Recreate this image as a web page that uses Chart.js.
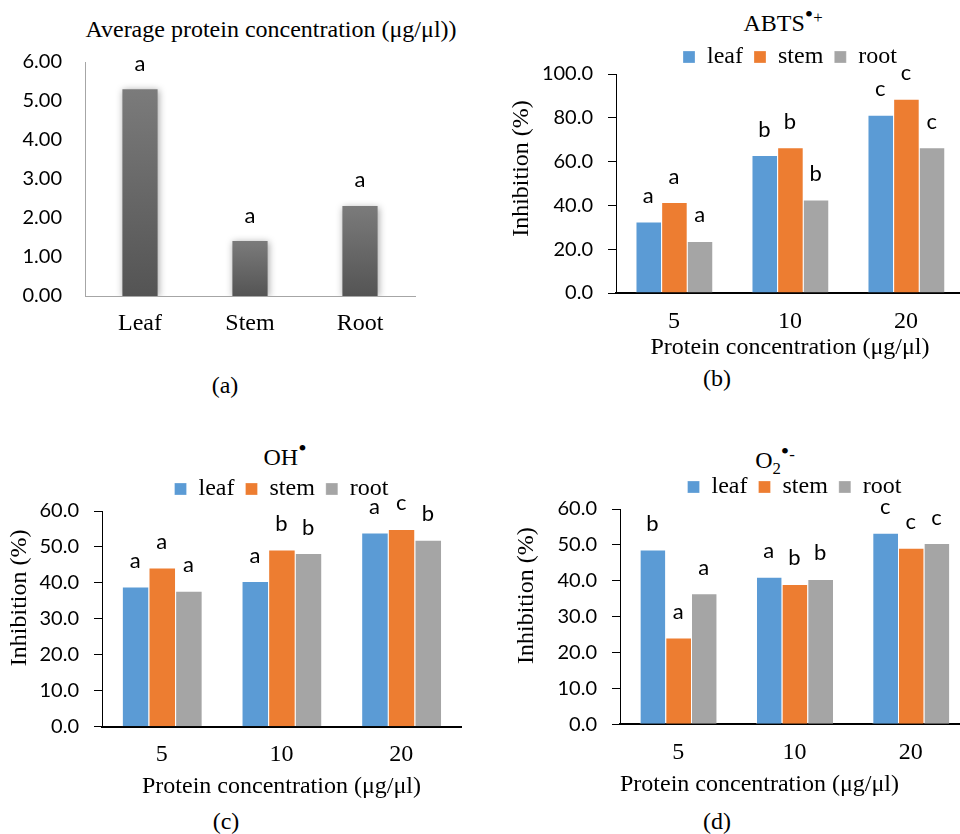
<!DOCTYPE html>
<html>
<head>
<meta charset="utf-8">
<script src="https://cdn.jsdelivr.net/npm/chart.js@4.4.1/dist/chart.umd.min.js"></script>
<style>
  html, body { margin: 0; padding: 0; background: #fff; overflow: hidden; }
  body { width: 960px; height: 834px; position: relative; }
  canvas { position: absolute; }
  .lbl { position: absolute; width: 400px; text-align: center; font: 24px 'Liberation Serif', serif; line-height: 28px; color: #000; white-space: nowrap; }
  .lbl sub { line-height: 0; font-size: 70%; }
  .dot { position: relative; top: -0.36em; }
  .sgn { position: relative; top: -0.45em; font-size: 70%; }
</style>
</head>
<body>
<div class="lbl" style="left:71px; top:15px;">Average protein concentration (μg/μl))</div>
<div class="lbl" style="left:583px; top:9px;">ABTS<span class="dot">•</span><span class="sgn">+</span></div>
<div class="lbl" style="left:85px; top:443px;">OH<span class="dot">•</span></div>
<div class="lbl" style="left:575px; top:446px;">O<sub>2</sub><span class="dot">•</span><span class="sgn">-</span></div>
<div class="lbl" style="left:25px; top:371px;">(a)</div>
<div class="lbl" style="left:517px; top:364px;">(b)</div>
<div class="lbl" style="left:26px; top:807px;">(c)</div>
<div class="lbl" style="left:517px; top:807px;">(d)</div>

<canvas id="chart-a" width="480" height="400" style="left:0; top:0;"></canvas>
<canvas id="chart-b" width="484" height="400" style="left:480px; top:0;"></canvas>
<canvas id="chart-c" width="480" height="404" style="left:0; top:430px;"></canvas>
<canvas id="chart-d" width="489" height="404" style="left:480px; top:430px;"></canvas>

<script>
'use strict'

// (a) average protein concentration
let organLabels = ['Leaf', 'Stem', 'Root'];
let proteinConc = [5.30, 1.41, 2.31];
let proteinLetters = ['a', 'a', 'a'];

// (b)-(d) inhibition by protein concentration
let doseLabels = ['5', '10', '20'];
let seriesNames = ['leaf', 'stem', 'root'];
let seriesColors = ['#5B9BD5', '#ED7D31', '#A5A5A5'];

let abtsLeaf = [32.6, 63.0, 81.4];
let abtsStem = [41.5, 66.6, 88.7];
let abtsRoot = [23.8, 42.7, 66.6];
let abtsLetters = [['a', 'b', 'c'], ['a', 'b', 'c'], ['a', 'b', 'c']];

let ohLeaf = [39.0, 40.5, 54.0];
let ohStem = [44.3, 49.3, 55.0];
let ohRoot = [37.8, 48.3, 52.0];
let ohLetters = [['a', 'a', 'a'], ['a', 'b', 'c'], ['a', 'b', 'b']];

let o2Leaf = [48.7, 41.1, 53.4];
let o2Stem = [24.2, 39.1, 49.2];
let o2Root = [36.5, 40.5, 50.5];
let o2Letters = [['b', 'a', 'c'], ['a', 'b', 'c'], ['a', 'b', 'c']];

const serif = "'Liberation Serif', 'Times New Roman', serif";
const sans = "Lato, 'Open Sans', sans-serif";

Chart.defaults.font.family = serif;
Chart.defaults.color = '#000';

// letters over each bar (significance groups)
const sigLetters = {
  id: 'sigLetters',
  afterDatasetsDraw(chart) {
    let ctx = chart.ctx;
    ctx.save();
    ctx.font = '22px ' + sans;
    ctx.fillStyle = '#000';
    ctx.textAlign = 'center';
    ctx.textBaseline = 'alphabetic';
    chart.data.datasets.forEach((ds, i) => {
      chart.getDatasetMeta(i).data.forEach((bar, j) => {
        ctx.fillText(ds.letters[j], bar.x, bar.y - 18.5);
      });
    });
    ctx.restore();
  }
};

// soft shadow for the grey bars in (a)
const barShadow = {
  id: 'barShadow',
  beforeDatasetsDraw(chart) {
    let ctx = chart.ctx;
    ctx.save();
    ctx.shadowColor = 'rgba(0,0,0,0.35)';
    ctx.shadowBlur = 7;
    ctx.shadowOffsetX = 1;
    ctx.shadowOffsetY = 1;
  },
  afterDatasetsDraw(chart) {
    chart.ctx.restore();
  }
};

function greyGradient(c) {
  let chart = c.chart;
  if (!chart.chartArea || c.type !== 'data') return '#666';
  let y = chart.scales.y;
  let top = y.getPixelForValue(c.raw);
  let bottom = y.getPixelForValue(0);
  let g = chart.ctx.createLinearGradient(0, top, 0, bottom);
  g.addColorStop(0, '#7b7b7b');
  g.addColorStop(1, '#545454');
  return g;
}

new Chart(document.getElementById('chart-a'), {
  type: 'bar',
  data: {
    labels: organLabels,
    datasets: [{
      data: proteinConc,
      letters: proteinLetters,
      backgroundColor: greyGradient,
      borderWidth: 0,
      barPercentage: 0.32,
      categoryPercentage: 1
    }]
  },
  options: {
    responsive: false,
    animation: false,
    layout: { padding: { top: 62, left: 0, right: 65, bottom: 0 } },
    plugins: { legend: { display: false }, title: { display: false }, tooltip: { enabled: false } },
    scales: {
      x: {
        grid: { display: false },
        border: { display: true, color: '#a6a6a6', width: 1 },
        ticks: { color: '#000', padding: 5.6, font: { family: serif, size: 24 } },
        afterFit(s) { s.height = 104; }
      },
      y: {
        min: 0, max: 6,
        ticks: { stepSize: 1, color: '#000', padding: 15, font: { family: sans, size: 20 },
          callback: (v) => v.toFixed(2) },
        grid: { display: false },
        border: { display: true, color: '#a6a6a6', width: 1 },
        afterFit(s) { s.width = 85; }
      }
    }
  },
  plugins: [barShadow, sigLetters]
});

function groupedChart(id, set) {
  let datasets = set.values.map((vals, i) => ({
    label: seriesNames[i],
    data: vals,
    letters: set.letters[i],
    backgroundColor: seriesColors[i],
    borderColor: 'rgba(255,255,255,0.55)',
    borderWidth: { top: 1, left: 1, right: 0, bottom: 0 },
    barPercentage: 1,
    categoryPercentage: set.groupPct
  }));

  return new Chart(document.getElementById(id), {
    type: 'bar',
    data: { labels: doseLabels, datasets: datasets },
    options: {
      responsive: false,
      animation: false,
      layout: { padding: { top: set.padTop, left: 0, right: set.padRight, bottom: 0 } },
      plugins: {
        tooltip: { enabled: false },
        title: { display: false },
        legend: {
          position: 'top',
          fullSize: false,
          maxHeight: set.legendHeight,
          labels: {
            boxWidth: 12, boxHeight: 12, padding: 11, color: '#000',
            font: { family: serif, size: 24 }
          }
        }
      },
      scales: {
        x: {
          grid: { display: false },
          border: { display: true, color: '#000', width: 2 },
          ticks: { color: '#000', padding: set.xTickPad, font: { family: serif, size: 24 } },
          title: {
            display: true, text: 'Protein concentration (μg/μl)', color: '#000',
            align: set.xTitleAlign, font: { family: serif, size: 24 },
            padding: { top: 0, bottom: set.xTitlePad }
          },
          afterFit(s) { s.height = set.xHeight; }
        },
        y: {
          min: 0, max: set.max,
          ticks: { stepSize: set.step, color: '#000', padding: 15, font: { family: sans, size: 20 },
            callback: (v) => v.toFixed(1) },
          grid: { drawOnChartArea: false, drawTicks: true, tickLength: 8, color: '#000' },
          border: { display: true, color: '#000', width: 1 },
          title: {
            display: true, text: set.yTitle, color: '#000',
            font: { family: serif, size: 24 },
            padding: { top: set.yTitlePad, bottom: 0 }
          },
          afterFit(s) { s.width = set.yWidth; }
        }
      }
    },
    plugins: [sigLetters]
  });
}

groupedChart('chart-b', {
  values: [abtsLeaf, abtsStem, abtsRoot], letters: abtsLetters,
  max: 100, step: 20, groupPct: 0.664,
  padTop: 34, padRight: 0, legendHeight: 40,
  yWidth: 136, yTitlePad: 27.6, yTitle: '     Inhibition (%)',
  xHeight: 107, xTickPad: 6.6, xTitlePad: 37.6, xTitleAlign: 'center'
});

groupedChart('chart-c', {
  values: [ohLeaf, ohStem, ohRoot], letters: ohLetters,
  max: 60, step: 10, groupPct: 0.668,
  padTop: 36, padRight: 19, legendHeight: 45,
  yWidth: 102, yTitlePad: 5.6, yTitle: '       Inhibition (%)',
  xHeight: 107.3, xTickPad: 6, xTitlePad: 32.6, xTitleAlign: 'center'
});

groupedChart('chart-d', {
  values: [o2Leaf, o2Stem, o2Root], letters: o2Letters,
  max: 60, step: 10, groupPct: 0.662,
  padTop: 34, padRight: 0, legendHeight: 46,
  yWidth: 140, yTitlePad: 32.6, yTitle: '       Inhibition (%)',
  xHeight: 109.7, xTickPad: 6.3, xTitlePad: 34.6, xTitleAlign: 'start'
});
</script>
</body>
</html>
